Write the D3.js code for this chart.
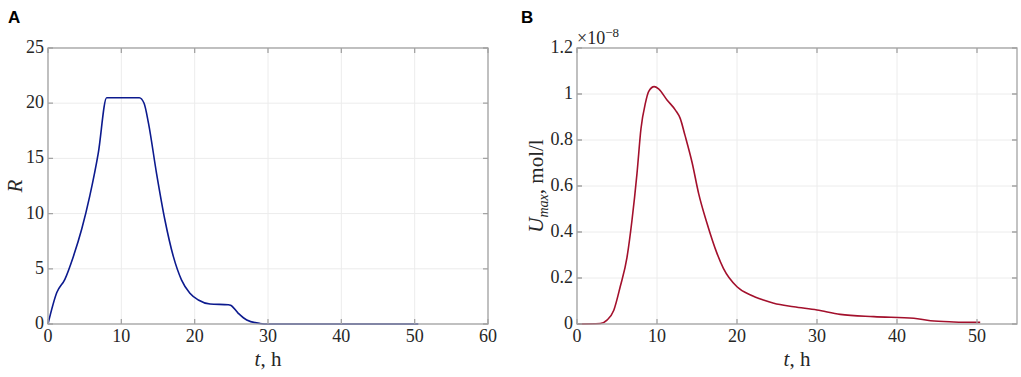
<!DOCTYPE html>
<html>
<head>
<meta charset="utf-8">
<script src="https://cdn.jsdelivr.net/npm/d3@7"></script>
<style>
  body { margin: 0; background: #fff; }
  svg { display: block; }
</style>
</head>
<body>
<svg id="chart" width="1021" height="377"></svg>
<script>
// panel A: R(t)
const timeA = [0, 1.2, 2.3, 3.45, 4.6, 5.7, 6.85, 8.0, 12.45, 13.1, 13.7, 14.8, 15.95, 17.1, 18.2, 19.35, 20.5, 22.1, 24.6, 24.9, 25.95, 27.1, 28.9, 30, 40, 50.5];
const valuesA = [0, 2.85, 4.05, 6.1, 8.6, 11.6, 15.45, 20.5, 20.5, 20.0, 18.2, 13.65, 9.4, 6.1, 4.0, 2.78, 2.17, 1.81, 1.75, 1.7, 0.97, 0.36, 0.05, 0, 0, 0];
const xTicksA = [0, 10, 20, 30, 40, 50, 60];
const yTicksA = [0, 5, 10, 15, 20, 25];

// panel B: U_max(t), in units of 1e-8 mol/l
const timeB = [0, 2.9, 3.75, 4.6, 5.4, 6.25, 6.87, 7.5, 8.0, 8.55, 8.95, 9.65, 10.2, 11.25, 12.3, 12.9, 13.5, 14.4, 15.2, 16.25, 17.5, 18.3, 20.0, 21.7, 23.3, 24.6, 27.1, 30.0, 32.9, 37.1, 42.1, 44.2, 47.1, 50.4];
const valuesB = [0, 0.002, 0.017, 0.06, 0.162, 0.29, 0.45, 0.655, 0.85, 0.96, 1.01, 1.032, 1.022, 0.974, 0.93, 0.894, 0.82, 0.70, 0.568, 0.438, 0.307, 0.242, 0.162, 0.126, 0.104, 0.09, 0.075, 0.061, 0.042, 0.032, 0.025, 0.014, 0.009, 0.007];
const xTicksB = [0, 10, 20, 30, 40, 50];
const yTicksB = [0, 0.2, 0.4, 0.6, 0.8, 1, 1.2];

const serif = "'Liberation Serif', 'DejaVu Serif', serif";
const tickStyle = `font-family: ${serif}; font-size: 18px; fill: #262626;`;
const labelStyle = `font-family: ${serif}; font-size: 21px; fill: #262626;`;

const svg = d3.select("#chart");
const plotTop = 48, plotBottom = 324, plotW = 440;

function drawPanel(opts) {
    const x = d3.scaleLinear().domain(opts.xDomain).range([opts.left, opts.left + plotW]);
    const y = d3.scaleLinear().domain(opts.yDomain).range([plotBottom, plotTop]);
    const g = svg.append("g");

    // grid
    g.selectAll(".gx").data(opts.xTicks).enter().append("line")
        .attr("x1", d => x(d)).attr("x2", d => x(d))
        .attr("y1", plotTop).attr("y2", plotBottom)
        .attr("stroke", "#ececec").attr("stroke-width", 1);
    g.selectAll(".gy").data(opts.yTicks).enter().append("line")
        .attr("x1", opts.left).attr("x2", opts.left + plotW)
        .attr("y1", d => y(d)).attr("y2", d => y(d))
        .attr("stroke", "#ececec").attr("stroke-width", 1);

    // curve
    const pts = opts.time.map((t, i) => [t, opts.values[i]]);
    g.append("path").datum(pts)
        .attr("fill", "none")
        .attr("stroke", opts.color)
        .attr("stroke-width", 1.6)
        .attr("stroke-linejoin", "round")
        .attr("d", d3.line().x(d => x(d[0])).y(d => y(d[1])).curve(d3.curveMonotoneX));

    // box + inward ticks
    const axisColor = "#a3a3a3";
    g.append("rect")
        .attr("x", opts.left).attr("y", plotTop)
        .attr("width", plotW).attr("height", plotBottom - plotTop)
        .attr("fill", "none").attr("stroke", axisColor).attr("stroke-width", 1.3);
    const tl = 5;
    g.selectAll(".tb").data(opts.xTicks).enter().append("path")
        .attr("d", d => `M${x(d)},${plotBottom}v${-tl}M${x(d)},${plotTop}v${tl}`)
        .attr("stroke", axisColor).attr("stroke-width", 1.3);
    g.selectAll(".tl").data(opts.yTicks).enter().append("path")
        .attr("d", d => `M${opts.left},${y(d)}h${tl}M${opts.left + plotW},${y(d)}h${-tl}`)
        .attr("stroke", axisColor).attr("stroke-width", 1.3);

    // tick labels
    g.selectAll(".xl").data(opts.xTicks).enter().append("text")
        .attr("style", tickStyle)
        .attr("x", d => x(d)).attr("y", plotBottom + 18)
        .attr("text-anchor", "middle")
        .text(d => d);
    g.selectAll(".yl").data(opts.yTicks).enter().append("text")
        .attr("style", tickStyle)
        .attr("x", opts.left - 4).attr("y", d => y(d) + 5)
        .attr("text-anchor", "end")
        .text(opts.yFormat);

    // x label
    const xl = g.append("text").attr("style", labelStyle)
        .attr("x", opts.left + plotW / 2).attr("y", plotBottom + 42)
        .attr("text-anchor", "middle");
    xl.append("tspan").attr("font-style", "italic").text("t");
    xl.append("tspan").text(", h");

    g.append("text")
        .attr("style", "font-family: 'Liberation Sans', Arial, sans-serif; font-size: 17px; font-weight: bold; fill: #000;")
        .attr("x", opts.letterX).attr("y", 23).text(opts.letter);
    return g;
}

const gA = drawPanel({
    left: 48, xDomain: [0, 60], yDomain: [0, 25],
    xTicks: xTicksA, yTicks: yTicksA, time: timeA, values: valuesA,
    color: "#0c1a8e", yFormat: d => d, letter: "A", letterX: 8
});
gA.append("text").attr("style", labelStyle)
    .attr("transform", "translate(22,186) rotate(-90)")
    .attr("text-anchor", "middle")
    .attr("font-style", "italic")
    .text("R");

const gB = drawPanel({
    left: 577, xDomain: [0, 55], yDomain: [0, 1.2],
    xTicks: xTicksB, yTicks: yTicksB, time: timeB, values: valuesB,
    color: "#a3102c", yFormat: d => d3.format("~g")(d), letter: "B", letterX: 521
});
const yl = gB.append("text").attr("style", labelStyle)
    .attr("transform", "translate(543,186) rotate(-90)")
    .attr("text-anchor", "middle");
yl.append("tspan").attr("font-style", "italic").text("U");
yl.append("tspan").attr("font-style", "italic").attr("font-size", "14px").attr("dy", 5).text("max");
yl.append("tspan").attr("dy", -5).text(",\u00a0mol/l");

const ex = gB.append("text").attr("style", tickStyle).attr("x", 577).attr("y", 44);
ex.append("tspan").text("×10");
ex.append("tspan").attr("font-size", "13px").attr("dy", -7).text("−8");
</script>
</body>
</html>
